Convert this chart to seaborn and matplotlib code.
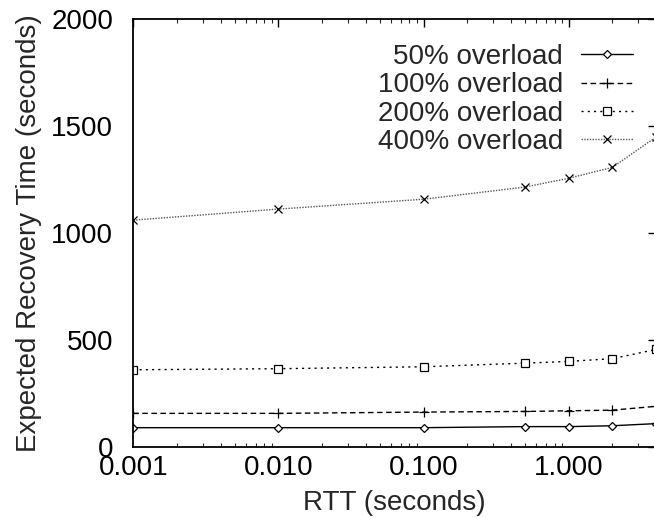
import matplotlib
matplotlib.use("Agg")
import matplotlib.pyplot as plt
import matplotlib.ticker as mticker
import seaborn as sns
import pandas as pd

rtt = [0.001, 0.01, 0.1, 0.5, 1.0, 2.0, 4.0]
labels = ["50% overload", "100% overload", "200% overload", "400% overload"]
ov50 = [89, 89, 89, 94, 94, 98, 108]
ov100 = [156, 156, 162, 165, 168, 171, 189]
ov200 = [360, 365, 374, 391, 399, 412, 455]
ov400 = [1060, 1112, 1158, 1215, 1256, 1307, 1449]
series = [ov50, ov100, ov200, ov400]
xticklabels = ["0.001", "0.010", "0.100", "1.000"]

styles = [
    dict(marker="D", ms=4.2, color="black", dashes=None),
    dict(marker="+", ms=7.5, color="black", dashes=(4, 2.5)),
    dict(marker="s", ms=5.5, color="black", dashes=(1.5, 3)),
    dict(marker="x", ms=5.5, color="#555555", dashes=(1, 1)),
]

FS = 20
sns.set_theme(style="white")
plt.rcParams["font.family"] = ["Liberation Sans", "DejaVu Sans"]
plt.rcParams["font.size"] = FS

fig = plt.figure(figsize=(6.54, 5.18), dpi=100)
W, H = 654, 518
left, right, top, bottom = 133.3, 656.0, 19.3, 446.7
ax = fig.add_axes([left / W, (H - bottom) / H, (right - left) / W, (bottom - top) / H])

for lab, vals, st in zip(labels, series, styles):
    df = pd.DataFrame({"rtt": rtt, "t": vals})
    sns.lineplot(data=df, x="rtt", y="t", ax=ax, label=lab, color=st["color"],
                 marker=st["marker"], markersize=st["ms"], markerfacecolor="white",
                 markeredgecolor="black", markeredgewidth=0.9, linewidth=1.0)
    line = ax.get_lines()[-1]
    if st["dashes"] is not None:
        line.set_dashes(st["dashes"])

ax.set_xscale("log")
ax.set_xlim(0.001, 4.0)
ax.set_ylim(0, 2000)
ax.set_yticks([0, 500, 1000, 1500, 2000])
ax.set_xticks([0.001, 0.01, 0.1, 1.0])
ax.xaxis.set_major_formatter(mticker.FixedFormatter(xticklabels))
ax.xaxis.set_minor_locator(mticker.LogLocator(base=10, subs=range(2, 10), numticks=20))
ax.xaxis.set_minor_formatter(mticker.NullFormatter())

for s in ax.spines.values():
    s.set_visible(True)
    s.set_color("black")
    s.set_linewidth(1.3)

ax.tick_params(axis="both", which="major", direction="in", length=6, width=1.0,
               top=True, right=True, labelsize=FS, colors="black")
ax.tick_params(axis="y", which="major", pad=14.5)
ax.tick_params(axis="x", which="major", pad=6)
ax.tick_params(axis="x", which="minor", direction="in", length=3, width=0.8, top=True, bottom=True)

ax.set_xlabel("RTT (seconds)", fontsize=FS)
ax.set_ylabel("Expected Recovery Time (seconds)", fontsize=FS)
ax.xaxis.set_label_coords(0.5, -0.101)
ax.yaxis.set_label_coords((42 - left) / (right - left), 0.5)

leg = ax.legend(loc="upper right", bbox_to_anchor=(633 / W, (H - 44) / H),
                bbox_transform=fig.transFigure, frameon=False, markerfirst=False,
                fontsize=FS, handlelength=1.87, handletextpad=0.65, labelspacing=0.085,
                borderpad=0, borderaxespad=0, numpoints=1)
for t in leg.get_texts():
    t.set_ha("right")

fig.savefig("out.png", dpi=100)
